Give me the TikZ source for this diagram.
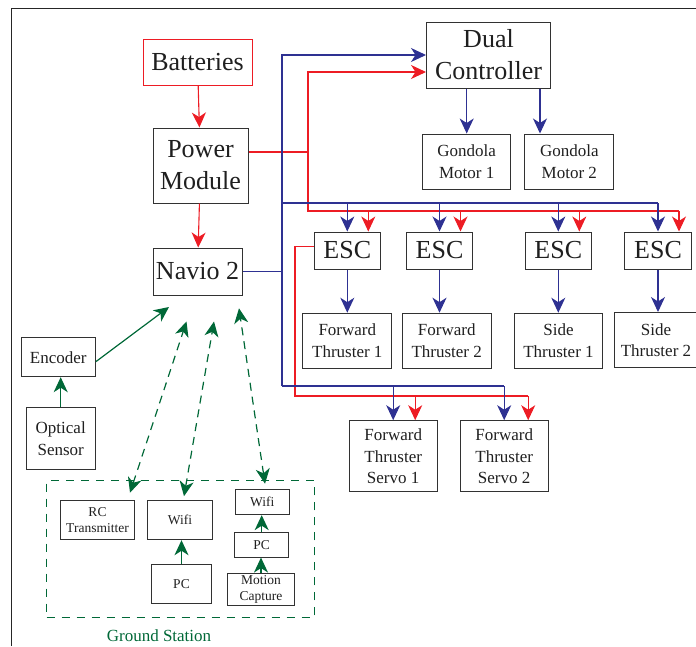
\documentclass[tikz,border=0pt]{standalone}
\usepackage{fontspec}
\setmainfont{Liberation Serif}
\usepackage{xcolor}
\definecolor{pwrred}{RGB}{237,28,36}
\definecolor{sigblue}{RGB}{46,49,146}
\definecolor{gsgreen}{RGB}{0,104,55}
\definecolor{boxgray}{RGB}{50,50,50}
\usetikzlibrary{arrows.meta, calc}

\newcommand{\bigtxt}{\fontsize{26}{32}\selectfont}
\newcommand{\midtxt}{\fontsize{17}{21.5}\selectfont}
\newcommand{\smalltxt}{\fontsize{13.5}{16}\selectfont}

\tikzset{
  blk/.style={draw=boxgray, line width=1pt, align=center, inner sep=0pt, text=black!88},
  bigblk/.style={blk, font=\bigtxt},
  midblk/.style={blk, font=\midtxt},
  smallblk/.style={blk, font=\smalltxt},
  tip/.style={-{Stealth[length=15pt,width=14pt,inset=4.5pt]}},
  dtip/.style={{Stealth[length=15pt,width=14pt,inset=4.5pt]}-{Stealth[length=15pt,width=14pt,inset=4.5pt]}},
  pwr/.style={pwrred, line width=1.1pt},
  sig/.style={sigblue, line width=1.1pt},
  gnd/.style={gsgreen, line width=1.2pt},
  gnddash/.style={gnd, dash pattern=on 8pt off 6pt},
}

\begin{document}
\begin{tikzpicture}[x=1pt, y=-1pt]
  \useasboundingbox (0,0) rectangle (696,646);
  \clip (0,0) rectangle (696,646);
  % Frame
  \draw[line width=1pt, black!85] (11,646) -- (11,8) -- (696,8);

  % --- Power chain ---
  \node[bigblk, draw=pwrred, minimum width=109pt, minimum height=46pt] (bat) at (197.5,62) {Batteries};
  \node[bigblk, minimum width=95pt, minimum height=75pt] (pm) at (200.5,165.5) {Power\\Module};
  \node[bigblk, minimum width=89pt, minimum height=47pt] (navio) at (197.5,271.5) {Navio 2};

  % --- Dual controller and gondola ---
  \node[bigblk, minimum width=124pt, minimum height=66pt] (dual) at (488.5,55) {Dual\\Controller};
  \node[midblk, minimum width=88pt, minimum height=55pt] (gm1) at (466.7,161.5) {Gondola\\Motor 1};
  \node[midblk, minimum width=88.7pt, minimum height=55pt] (gm2) at (569.3,161.5) {Gondola\\Motor 2};

  % --- ESCs and thrusters ---
  \foreach \n/\x in {1/347.3, 2/439.5, 3/558.3, 4/658}
    \node[bigblk, minimum width=66.5pt, minimum height=37pt] (esc\n) at (\x,250.5) {ESC};
  \node[midblk, minimum width=88.7pt, minimum height=55pt] (ft1) at (347.3,340.7) {Forward\\Thruster 1};
  \node[midblk, minimum width=89.3pt, minimum height=55pt] (ft2) at (446.7,340.7) {Forward\\Thruster 2};
  \node[midblk, minimum width=88.4pt, minimum height=55pt] (st1) at (558.5,340.7) {Side\\Thruster 1};
  \node[midblk, minimum width=84pt, minimum height=55pt] (st2) at (656,340) {Side\\Thruster 2};
  \node[midblk, minimum width=88.3pt, minimum height=71pt] (sv1) at (393.2,456.2) {Forward\\Thruster\\Servo 1};
  \node[midblk, minimum width=88.3pt, minimum height=71pt] (sv2) at (504.2,456.2) {Forward\\Thruster\\Servo 2};

  % --- Sensors ---
  \node[midblk, minimum width=74pt, minimum height=39pt] (enc) at (58.3,357.2) {Encoder};
  \node[midblk, minimum width=69.3pt, minimum height=61.7pt] (opt) at (60.7,438.8) {Optical\\Sensor};

  % --- Ground station ---
  \node[draw=gsgreen, line width=1.1pt, dash pattern=on 8pt off 7pt, minimum width=267.6pt, minimum height=137pt] (gs) at (180.5,549.2) {};
  \node[font=\midtxt, text=gsgreen] (gslbl) at (159,636) {Ground Station};
  \node[smallblk, minimum width=74.4pt, minimum height=39pt] (rc) at (97.5,520.2) {RC\\Transmitter};
  \node[smallblk, minimum width=65.4pt, minimum height=39pt] (wifiA) at (180,520.2) {Wifi};
  \node[smallblk, minimum width=59.6pt, minimum height=39pt] (pcA) at (181.5,583.8) {PC};
  \node[smallblk, minimum width=54pt, minimum height=24.7pt] (wifiB) at (262.3,502.3) {Wifi};
  \node[smallblk, minimum width=54pt, minimum height=24.7pt] (pcB) at (261.7,544.7) {PC};
  \node[smallblk, minimum width=66.6pt, minimum height=31.6pt] (mocap) at (261,589.5) {Motion\\Capture};

  % Power lines
  \draw[pwr, tip] (bat) -- (pm);
  \draw[pwr, tip] (pm) -- (navio);
  \coordinate (rj) at (308,152);
  \coordinate (rbus) at (679,211);
  \draw[pwr] ($(pm.east)+(0,-13.5)$) -- (rj);
  \draw[pwr, tip] (rj) |- ($(dual.west)+(0,17)$);
  \draw[pwr] (rj) |- (rbus);
  \foreach \n in {1,...,4} {
    \path ($(esc\n.north)+(21,0)$) coordinate (rin\n);
    \draw[pwr, tip] (rin\n |- rbus) -- (rin\n);
  }
  \coordinate (sj) at (295,396);
  \path ($(sv1.north)+(22,0)$) coordinate (rsv1);
  \path ($(sv2.north)+(24,0)$) coordinate (rsv2);
  \draw[pwr] ($(esc1.west)+(0,-4)$) -| (sj) -- (rsv2 |- sj);
  \draw[pwr, tip] (rsv1 |- sj) -- (rsv1);
  \draw[pwr, tip] (rsv2 |- sj) -- (rsv2);

  % Signal lines
  \coordinate (btrk) at (282,386);
  \coordinate (bbus) at (282,203);
  \draw[sig] (navio.east) -- (navio.east -| btrk);
  \draw[sig, tip] (btrk) |- (dual.west);
  \draw[sig] (bbus) -- (esc4.north |- bbus);
  \foreach \n in {1,...,4}
    \draw[sig, tip] (esc\n.north |- bbus) -- (esc\n.north);
  \draw[sig] (btrk) -- (sv2.north |- btrk);
  \draw[sig, tip] (sv1.north |- btrk) -- (sv1.north);
  \draw[sig, tip] (sv2.north |- btrk) -- (sv2.north);
  \draw[sig, tip] (dual.south -| gm1.north) -- (gm1.north);
  \path ($(gm2.north)+(-29.3,0)$) coordinate (gm2in);
  \draw[sig, tip] (gm2in |- dual.south) -- (gm2in);
  \draw[sig, tip] (esc1.south) -- (esc1.south |- ft1.north);
  \draw[sig, tip] (esc2.south) -- (esc2.south |- ft2.north);
  \draw[sig, tip] (esc3.south) -- (esc3.south |- st1.north);
  \draw[sig, tip] (esc4.south) -- (esc4.south |- st2.north);

  % Sensor and ground station links
  \draw[gnd, tip] (opt.north) -- (opt.north |- enc.south);
  \coordinate (navE) at (169,307);
  \draw[gnd, tip] ($(enc.east)+(0,4.5)$) -- (navE);
  \coordinate (navR) at (186.5,321.5);
  \coordinate (navW) at (214,321.5);
  \coordinate (navM) at (239,308.3);
  \coordinate (rcS) at ($(rc.north)+(32.5,-7.5)$);
  \coordinate (waS) at ($(wifiA.north)+(4,-4)$);
  \coordinate (wbS) at ($(wifiB.north)+(2.7,-5.7)$);
  \draw[gnddash, dtip] (rcS) -- (navR);
  \draw[gnddash, dtip] (waS) -- (navW);
  \draw[gnddash, dtip] (wbS) -- (navM);
  \draw[gnd, tip] (pcA.north) -- (pcA.north |- wifiA.south);
  \draw[gnd, tip] (pcB.north) -- (pcB.north |- wifiB.south);
  \draw[gnd, tip] (mocap.north) -- (mocap.north |- pcB.south);
\end{tikzpicture}
\end{document}
